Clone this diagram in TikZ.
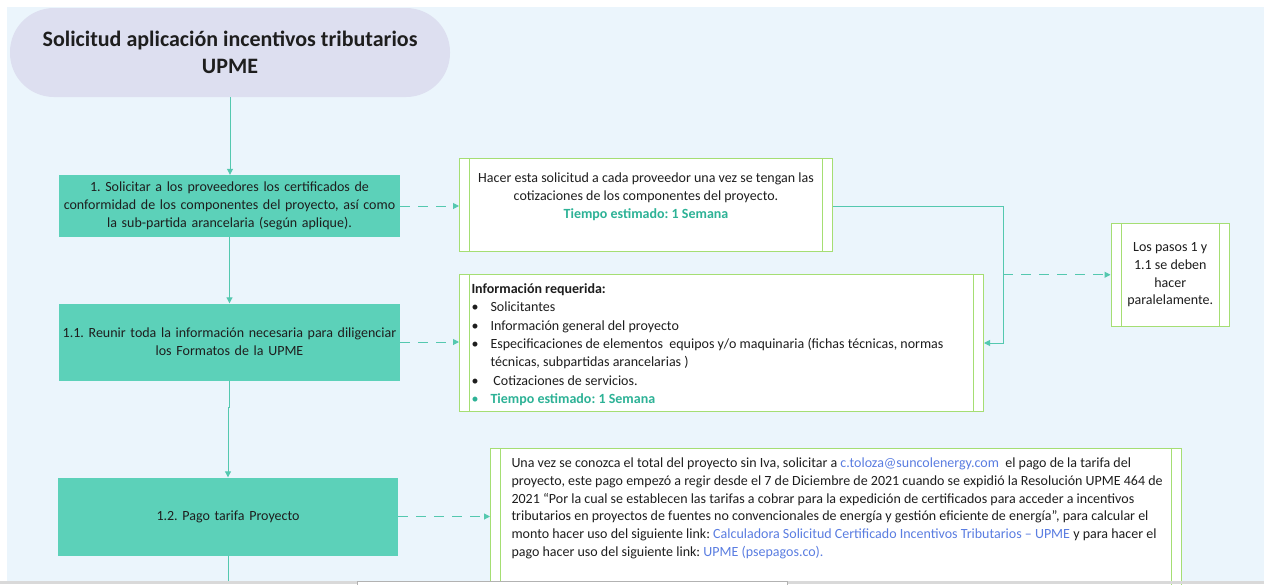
\documentclass[tikz,border=0pt]{standalone}
\usepackage{fontspec}
\setmainfont{Carlito}
\usetikzlibrary{arrows.meta}
\definecolor{bgcol}{RGB}{235,245,252}
\definecolor{titlefill}{RGB}{221,223,240}
\definecolor{stepfill}{RGB}{92,209,185}
\definecolor{conncol}{RGB}{84,200,175}
\definecolor{greenline}{RGB}{165,222,115}
\definecolor{timecol}{RGB}{45,178,150}
\definecolor{linkblue}{RGB}{90,125,225}
\definecolor{txtcol}{RGB}{30,30,30}
\frenchspacing
\begin{document}
\begin{tikzpicture}[x=1pt,y=-1pt,
  every node/.style={text=txtcol, font=\fontsize{14}{17.8}\selectfont},
  titlebox/.style={fill=titlefill, rounded corners=44pt, minimum width=440pt, minimum height=89pt,
    inner sep=0pt, align=center, font=\fontsize{22}{27}\selectfont\bfseries},
  stepbox/.style={fill=stepfill, inner sep=0pt, align=center},
  notebox/.style={draw=greenline, line width=1pt, fill=white, inner sep=0pt, anchor=north west,
    path picture={\draw[greenline, line width=1pt]
      ([xshift=10pt]path picture bounding box.north west) -- ([xshift=10pt]path picture bounding box.south west)
      ([xshift=-10pt]path picture bounding box.north east) -- ([xshift=-10pt]path picture bounding box.south east);}},
  conn/.style={draw=conncol, line width=1pt, -{Triangle[length=6pt,width=6pt]}},
  dconn/.style={conn, dash pattern=on 10pt off 8pt},
  plain/.style={draw=conncol, line width=1pt}
]
\useasboundingbox (0,0) rectangle (1264,584);
\clip (0,0) rectangle (1264,584);
\fill[white] (0,0) rectangle (1264,584);
\fill[bgcol] (7,7) rectangle (1264,584);

% title
\node[titlebox] (title) at (230,52.5) {Solicitud aplicación incentivos tributarios\\UPME};

% steps
\node[stepbox, minimum width=341pt, minimum height=62pt, text width=337pt] (s1) at (229.5,206)
  {1. Solicitar a los proveedores los certificados de\\conformidad de los componentes del proyecto, así como\\la sub-partida arancelaria (según aplique).};
\node[stepbox, minimum width=341pt, minimum height=77pt, text width=337pt] (s11) at (229.5,342)
  {1.1. Reunir toda la información necesaria para diligenciar\\los Formatos de la UPME};
\node[stepbox, minimum width=340pt, minimum height=78pt, text width=336pt] (s12) at (228,516.5)
  {1.2. Pago tarifa Proyecto};

% notes
\node[notebox] (n1) at (459,158)
  {\parbox[c][93pt][t]{373pt}{\centering\rule{0pt}{24pt}Hacer esta solicitud a cada proveedor una vez se tengan las\\
   cotizaciones de los componentes del proyecto.\\
   {\bfseries\color{timecol}Tiempo estimado: 1 Semana}}};

\node[notebox] (n2) at (459,274)
  {\parbox[c][137pt][t]{524pt}{\fontsize{14}{18.3}\selectfont\rule{0pt}{19pt}\hspace*{12pt}\begin{tabular}[t]{@{}p{19pt}@{}l@{}}
   \multicolumn{2}{@{}l}{\bfseries Información requerida:}\\
   \textbullet & Solicitantes\\
   \textbullet & Información general del proyecto\\
   \textbullet & Especificaciones de elementos \ equipos y/o maquinaria (fichas técnicas, normas\\
               & técnicas, subpartidas arancelarias )\\
   \textbullet & \hspace{3pt}Cotizaciones de servicios.\\
   \textcolor{timecol}{\textbullet} & \textcolor{timecol}{\bfseries Tiempo estimado: 1 Semana}
   \end{tabular}}};

\node[notebox] (par) at (1110.5,222.5)
  {\parbox[c][103.5pt][c]{118.5pt}{\centering Los pasos 1 y\\1.1 se deben\\hacer\\paralelamente.}};

\node[notebox] (n4) at (490,448)
  {\parbox[c][150pt][t]{691pt}{\rule{0pt}{19pt}\hspace*{21pt}\begin{tabular}[t]{@{}l@{}}
   Una vez se conozca el total del proyecto sin Iva, solicitar a {\color{linkblue}c.toloza@suncolenergy.com} \ el pago de la tarifa del\\
   proyecto, este pago empezó a regir desde el 7 de Diciembre de 2021 cuando se expidió la Resolución UPME 464 de\\
   2021 “Por la cual se establecen las tarifas a cobrar para la expedición de certificados para acceder a incentivos\\
   tributarios en proyectos de fuentes no convencionales de energía y gestión eficiente de energía”, para calcular el\\
   monto hacer uso del siguiente link: {\color{linkblue}Calculadora Solicitud Certificado Incentivos Tributarios – UPME} y para hacer el\\
   pago hacer uso del siguiente link: {\color{linkblue}UPME (psepagos.co).}
   \end{tabular}}};

% vertical flow
\draw[conn] (title.south) -- (title.south |- s1.north);
\draw[conn] (s1.south) -- (s1.south |- s11.north);
\draw[conn] (s11.south) -- ++(0,27) -| (s12.north);
\coordinate (bottomend) at (228,581);
\draw[plain] (s12.south) -- (bottomend);

% dashed to notes
\draw[dconn] (s1.east) -- (s1.east -| n1.west);
\draw[dconn] (s11.east) -- (s11.east -| n2.west);
\draw[dconn] (s12.east) -- (s12.east -| n4.west);

% n1 to n2 and to par
\coordinate (jn) at (1003,206);
\draw[conn] (n1.east |- jn) -- (jn) |- (n2.east);
\draw[dconn] (jn |- par.west) -- (par.west);

% bottom bar
\fill[black!15] (0,581) rectangle (1264,584);
\filldraw[fill=white, draw=black!30, line width=0.6pt] (357,581.5) rectangle (787,586);
\end{tikzpicture}
\end{document}
